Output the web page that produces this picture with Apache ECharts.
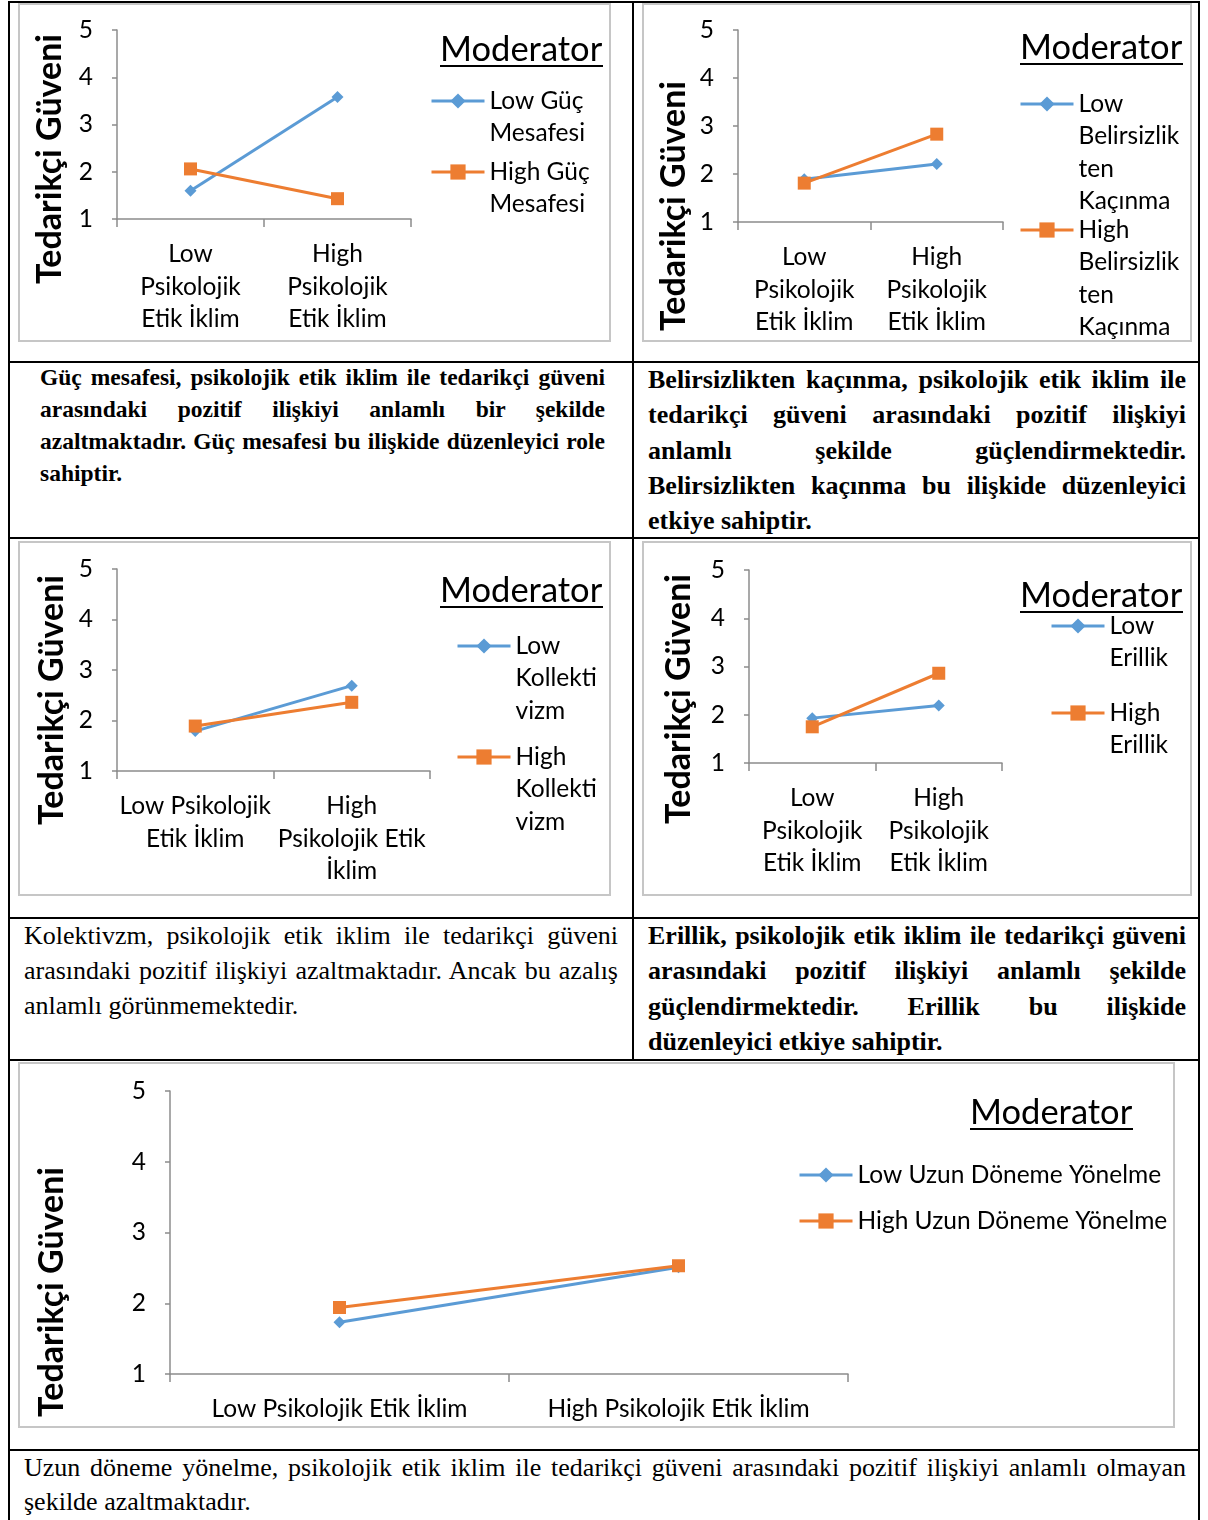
<!DOCTYPE html>
<html>
<head>
<meta charset="utf-8">
<script src="https://cdn.jsdelivr.net/npm/echarts@6/dist/echarts.min.js"></script>
<style>
  html, body { margin: 0; padding: 0; background: #fff; }
  #page { position: relative; width: 1208px; height: 1520px; overflow: hidden; background: #fff; }
  .rule { position: absolute; background: #000; }
  .chart { position: absolute; }
  .frame { position: absolute; box-sizing: border-box; border: 2px solid #c6c6c6; pointer-events: none; }
  .cell { position: absolute; font-family: "Liberation Serif", "Times New Roman", serif; color: #000; }
  .cell div { white-space: nowrap; text-align: justify; text-align-last: justify; }
  .cell div.last { text-align-last: left; }
  .bold { font-weight: bold; }
</style>
</head>
<body>
<div id="page">
  <div id="c1" class="chart"></div>
  <div id="c2" class="chart"></div>
  <div id="c3" class="chart"></div>
  <div id="c4" class="chart"></div>
  <div id="c5" class="chart"></div>

  <div class="cell bold" style="left:40px;top:361px;width:565px;font-size:23.5px;line-height:32px;">
    <div>Güç mesafesi, psikolojik etik iklim ile tedarikçi güveni</div>
    <div>arasındaki pozitif ilişkiyi anlamlı bir şekilde</div>
    <div>azaltmaktadır. Güç mesafesi bu ilişkide düzenleyici role</div>
    <div class="last">sahiptir.</div>
  </div>
  <div class="cell bold" style="left:648px;top:362px;width:538px;font-size:26px;line-height:35.25px;">
    <div>Belirsizlikten kaçınma, psikolojik etik iklim ile</div>
    <div>tedarikçi güveni arasındaki pozitif ilişkiyi</div>
    <div>anlamlı şekilde güçlendirmektedir.</div>
    <div>Belirsizlikten kaçınma bu ilişkide düzenleyici</div>
    <div class="last">etkiye sahiptir.</div>
  </div>
  <div class="cell" style="left:24px;top:918px;width:594px;font-size:26px;line-height:35px;">
    <div>Kolektivzm, psikolojik etik iklim ile tedarikçi güveni</div>
    <div>arasındaki pozitif ilişkiyi azaltmaktadır. Ancak bu azalış</div>
    <div class="last">anlamlı görünmemektedir.</div>
  </div>
  <div class="cell bold" style="left:648px;top:918px;width:538px;font-size:26px;line-height:35.3px;">
    <div>Erillik, psikolojik etik iklim ile tedarikçi güveni</div>
    <div>arasındaki pozitif ilişkiyi anlamlı şekilde</div>
    <div>güçlendirmektedir. Erillik bu ilişkide</div>
    <div class="last">düzenleyici etkiye sahiptir.</div>
  </div>
  <div class="cell" style="left:24px;top:1451px;width:1162px;font-size:26px;line-height:34px;">
    <div>Uzun döneme yönelme, psikolojik etik iklim ile tedarikçi güveni arasındaki pozitif ilişkiyi anlamlı olmayan</div>
    <div class="last">şekilde azaltmaktadır.</div>
  </div>

  <!-- table rules -->
  <div class="rule" style="left:8px;top:1px;width:1192px;height:2px;"></div>
  <div class="rule" style="left:8px;top:1px;width:2px;height:1519px;"></div>
  <div class="rule" style="left:1198px;top:1px;width:2px;height:1519px;"></div>
  <div class="rule" style="left:632px;top:1px;width:2px;height:1059px;"></div>
  <div class="rule" style="left:8px;top:361px;width:1192px;height:2px;"></div>
  <div class="rule" style="left:8px;top:537px;width:1192px;height:2px;"></div>
  <div class="rule" style="left:8px;top:917px;width:1192px;height:2px;"></div>
  <div class="rule" style="left:8px;top:1059px;width:1192px;height:2px;"></div>
  <div class="rule" style="left:8px;top:1449px;width:1192px;height:2px;"></div>
</div>

<script>
// x categories
const catsStacked = ['Low\nPsikolojik\nEtik İklim', 'High\nPsikolojik\nEtik İklim'];
const catsKollekt = ['Low Psikolojik\nEtik İklim', 'High\nPsikolojik Etik\nİklim'];
const catsWide = ['Low Psikolojik Etik İklim', 'High Psikolojik Etik İklim'];

// series values (Tedarikçi Güveni, scale 1-5)
const gucLow = [1.60, 3.58];
const gucHigh = [2.06, 1.43];
const belLow = [1.89, 2.21];
const belHigh = [1.81, 2.83];
const kolLow = [1.79, 2.69];
const kolHigh = [1.89, 2.36];
const eriLow = [1.93, 2.19];
const eriHigh = [1.75, 2.86];
const uzunLow = [1.73, 2.51];
const uzunHigh = [1.94, 2.53];

// legend names and the wrapped labels shown for them
const gucNames = ['Low Güç Mesafesi', 'High Güç Mesafesi'];
const gucLabels = ['Low Güç\nMesafesi', 'High Güç\nMesafesi'];
const belNames = ['Low Belirsizlikten Kaçınma', 'High Belirsizlikten Kaçınma'];
const belLabels = ['Low\nBelirsizlik\nten\nKaçınma', 'High\nBelirsizlik\nten\nKaçınma'];
const kolNames = ['Low Kollektivizm', 'High Kollektivizm'];
const kolLabels = ['Low\nKollekti\nvizm', 'High\nKollekti\nvizm'];
const eriNames = ['Low Erillik', 'High Erillik'];
const eriLabels = ['Low\nErillik', 'High\nErillik'];
const uzunNames = ['Low Uzun Döneme Yönelme', 'High Uzun Döneme Yönelme'];
const uzunLabels = ['Low Uzun Döneme Yönelme', 'High Uzun Döneme Yönelme'];

const yMin = 1, yMax = 5, yStep = 1;
const legendTitle = 'Moderator';
const axisTitle = 'Tedarikçi Güveni';

const BLUE = '#5b9bd5';
const ORANGE = '#ed7d31';
const AXIS = '#8c8c8c';
const FONT = 'Lato';
const LABEL_SIZE = 24.5;

// page coordinates of every piece, box = [x1, y1, x2, y2]
const specs = [
  {id: 'c1', box: [18, 3, 611, 342], grid: [117, 30, 411, 219], cats: catsStacked,
   data: [gucLow, gucHigh], names: gucNames, labels: gucLabels,
   legendX: 430, legendY: [101, 172], lh: 32, mod: [440, 50, 163], title: [50, 159]},
  {id: 'c2', box: [642, 3, 1192, 342], grid: [738, 30, 1003, 222], cats: catsStacked,
   data: [belLow, belHigh], names: belNames, labels: belLabels,
   legendX: 1019, legendY: [104, 230], lh: 32.3, mod: [1020, 48, 163], title: [674, 206]},
  {id: 'c3', box: [18, 541, 611, 896], grid: [117, 569, 430, 771], cats: catsKollekt,
   data: [kolLow, kolHigh], names: kolNames, labels: kolLabels,
   legendX: 456, legendY: [646, 757], lh: 32.5, mod: [440, 591, 163], title: [52, 700]},
  {id: 'c4', box: [642, 541, 1192, 896], grid: [749, 570, 1002, 763], cats: catsStacked,
   data: [eriLow, eriHigh], names: eriNames, labels: eriLabels,
   legendX: 1050, legendY: [626, 713], lh: 32, mod: [1020, 596, 163], title: [679, 699]},
  {id: 'c5', box: [18, 1062, 1175, 1428], grid: [170, 1091, 848, 1374], cats: catsWide,
   data: [uzunLow, uzunHigh], names: uzunNames, labels: uzunLabels,
   legendX: 798, legendY: [1175, 1221], lh: 32, mod: [970, 1113, 163], title: [52, 1292]}
];

const page = document.getElementById('page');

specs.forEach(function (s) {
  const bx = s.box[0], by = s.box[1];
  const w = s.box[2] - bx, h = s.box[3] - by;
  const el = document.getElementById(s.id);
  el.style.left = bx + 'px';
  el.style.top = by + 'px';
  el.style.width = w + 'px';
  el.style.height = h + 'px';

  const frame = document.createElement('div');
  frame.className = 'frame';
  frame.style.left = bx + 'px';
  frame.style.top = by + 'px';
  frame.style.width = w + 'px';
  frame.style.height = h + 'px';
  page.appendChild(frame);

  // one legend per series; blank lines in front keep the icon beside the first text line
  const legends = s.names.map(function (name, i) {
    const n = s.labels[i].split('\n').length;
    const shown = '\n'.repeat(n - 1) + s.labels[i];
    return {
      data: [name],
      orient: 'vertical',
      left: s.legendX - bx,
      top: s.legendY[i] - by - (2 * n - 1) * s.lh / 2,
      padding: 0,
      itemWidth: 53,
      itemHeight: 19,
      selectedMode: false,
      lineStyle: {width: 3},
      formatter: function () { return shown; },
      textStyle: {fontFamily: FONT, fontSize: LABEL_SIZE, color: '#000', lineHeight: s.lh}
    };
  });

  const option = {
    animation: false,
    textStyle: {fontFamily: FONT},
    title: {
      text: legendTitle,
      left: s.mod[0] - bx,
      top: s.mod[1] - by - 20,
      padding: 0,
      textStyle: {fontFamily: FONT, fontSize: 34.5, fontWeight: 'normal', color: '#000', lineHeight: 40}
    },
    grid: {
      left: s.grid[0] - bx,
      top: s.grid[1] - by,
      width: s.grid[2] - s.grid[0],
      height: s.grid[3] - s.grid[1],
      containLabel: false
    },
    legend: legends,
    xAxis: {
      type: 'category',
      data: s.cats,
      boundaryGap: true,
      axisLine: {show: true, lineStyle: {color: AXIS, width: 1.5}},
      axisTick: {show: true, length: 8, lineStyle: {color: AXIS, width: 1.5}},
      axisLabel: {interval: 0, margin: 19, fontFamily: FONT, fontSize: LABEL_SIZE, lineHeight: 32.5, color: '#000'},
      splitLine: {show: false}
    },
    yAxis: {
      type: 'value',
      min: yMin,
      max: yMax,
      interval: yStep,
      axisLine: {show: true, lineStyle: {color: AXIS, width: 1.5}},
      axisTick: {show: true, length: 5, lineStyle: {color: AXIS, width: 1.5}},
      axisLabel: {margin: 24, fontFamily: FONT, fontSize: LABEL_SIZE, color: '#000'},
      splitLine: {show: false}
    },
    series: [
      {
        name: s.names[0], type: 'line', data: s.data[0],
        symbol: 'diamond', symbolSize: 12, showSymbol: true,
        lineStyle: {width: 3, color: BLUE}, itemStyle: {color: BLUE}
      },
      {
        name: s.names[1], type: 'line', data: s.data[1],
        symbol: 'rect', symbolSize: 13, showSymbol: true,
        lineStyle: {width: 3, color: ORANGE}, itemStyle: {color: ORANGE}
      }
    ],
    graphic: [
      {
        type: 'rect',
        shape: {x: s.mod[0] - bx, y: s.mod[1] - by + 15, width: s.mod[2], height: 2},
        style: {fill: '#000'}
      },
      {
        type: 'text',
        x: s.title[0] - bx,
        y: s.title[1] - by,
        rotation: Math.PI / 2,
        style: {
          text: axisTitle, fill: '#000', align: 'center', verticalAlign: 'middle',
          fontFamily: FONT, fontSize: 34, fontWeight: 'bold'
        }
      }
    ]
  };

  const chart = echarts.init(el);
  chart.setOption(option);
});
</script>
</body>
</html>
